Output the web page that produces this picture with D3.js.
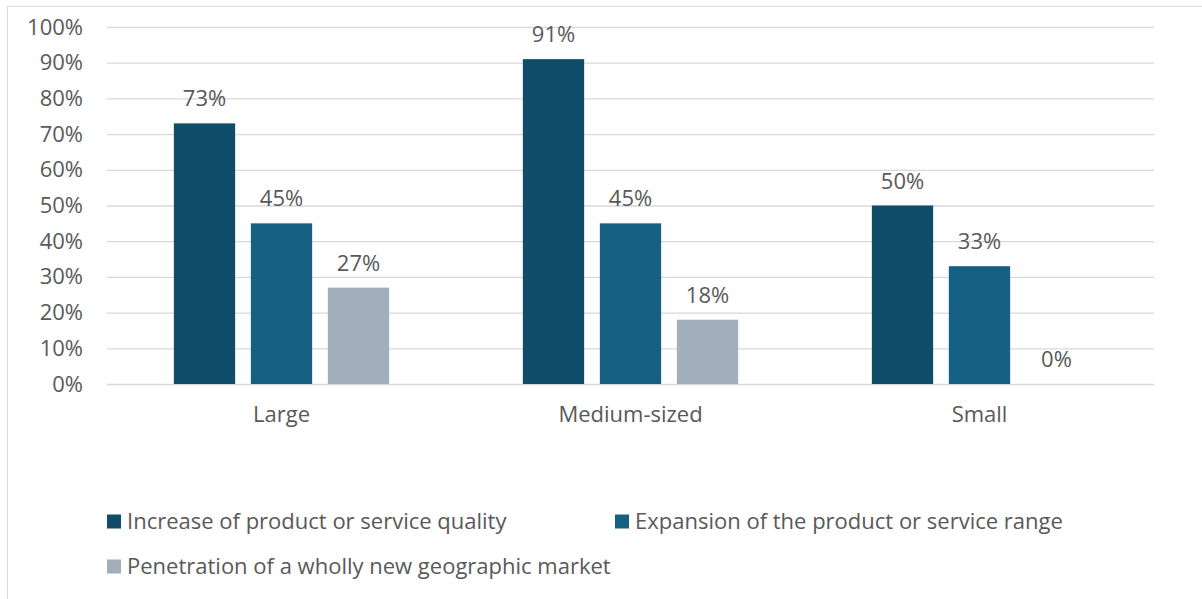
<!DOCTYPE html>
<html>
<head>
<meta charset="utf-8">
<script src="https://cdn.jsdelivr.net/npm/d3@7"></script>
<style>
  html, body { margin: 0; padding: 0; background: #fff; }
  svg { display: block; }
  text { font-family: "Open Sans", "Noto Sans", sans-serif; fill: #595959; }
</style>
</head>
<body>
<script>
// Company size groups and the share of firms naming each growth effect
const categories = ["Large", "Medium-sized", "Small"];
const seriesNames = [
  "Increase of product or service quality",
  "Expansion of the product or service range",
  "Penetration of a wholly new geographic market"
];
const qualityValues = [0.73, 0.91, 0.50];
const rangeValues = [0.45, 0.45, 0.33];
const marketValues = [0.27, 0.18, 0.00];
const yTicks = [0, 0.1, 0.2, 0.3, 0.4, 0.5, 0.6, 0.7, 0.8, 0.9, 1.0];
const colors = ["#0f4d69", "#166083", "#a2afba"];

const W = 1202, H = 599;
const FS = 22;
const margin = { left: 107, right: W - 1154, top: 27, bottom: H - 384 };

const svg = d3.select("body").append("svg").attr("width", W).attr("height", H);

// Chart area border
svg.append("rect")
  .attr("x", 7.5).attr("y", 6.5)
  .attr("width", W + 10).attr("height", H + 10)
  .attr("fill", "none").attr("stroke", "#d9d9d9").attr("stroke-width", 1);

const x0 = d3.scaleBand().domain(categories)
  .range([margin.left, W - margin.right]).paddingInner(0).paddingOuter(0);
const y = d3.scaleLinear().domain([0, 1]).range([384, 27]);

const barW = 61.3, gap = 15.7;
const groupW = barW * 3 + gap * 2;
const x1 = d3.scaleBand().domain(d3.range(3))
  .range([0, groupW]).paddingInner(gap / (barW + gap)).paddingOuter(0);

// Horizontal gridlines and percent tick labels
const yAxis = d3.axisLeft(y).tickValues(yTicks)
  .tickFormat(d3.format(".0%"))
  .tickSize(-(W - margin.left - margin.right)).tickPadding(24);
const gy = svg.append("g").attr("transform", `translate(${margin.left},0)`).call(yAxis);
gy.select(".domain").remove();
gy.selectAll(".tick line").attr("stroke", "#d9d9d9").attr("stroke-width", 1.3);
gy.selectAll(".tick text").attr("font-size", FS).attr("fill", "#595959")
  .attr("font-family", '"Open Sans", sans-serif');

// Category labels
const xAxis = d3.axisBottom(x0).tickSize(0).tickPadding(22);
const gx = svg.append("g").attr("transform", "translate(0,384)").call(xAxis);
gx.select(".domain").remove();
gx.selectAll(".tick text").attr("font-size", FS).attr("fill", "#595959")
  .attr("font-family", '"Open Sans", sans-serif');

const series = [qualityValues, rangeValues, marketValues];
const rows = categories.map((c, i) => ({
  cat: c,
  vals: series.map((s, k) => ({ k, v: s[i] }))
}));

const groups = svg.append("g").selectAll("g").data(rows).join("g")
  .attr("transform", d => `translate(${x0(d.cat) + (x0.bandwidth() - groupW) / 2},0)`);

groups.selectAll("rect").data(d => d.vals).join("rect")
  .attr("x", d => x1(d.k))
  .attr("width", x1.bandwidth())
  .attr("y", d => y(d.v))
  .attr("height", d => y(0) - y(d.v))
  .attr("fill", d => colors[d.k]);

groups.selectAll("text.val").data(d => d.vals).join("text")
  .attr("class", "val")
  .attr("x", d => x1(d.k) + x1.bandwidth() / 2)
  .attr("y", d => y(d.v) - 17)
  .attr("text-anchor", "middle")
  .attr("font-size", FS)
  .text(d => d3.format(".0%")(d.v));

// Legend
const legendItems = [
  { i: 0, x: 107, y: 521.5 },
  { i: 1, x: 615, y: 521.5 },
  { i: 2, x: 107, y: 566.5 }
];
const lg = svg.append("g").selectAll("g").data(legendItems).join("g")
  .attr("transform", d => `translate(${d.x},${d.y})`);
lg.append("rect").attr("x", 0).attr("y", -7).attr("width", 14).attr("height", 14)
  .attr("fill", d => colors[d.i]);
lg.append("text").attr("x", 20).attr("y", 0).attr("dy", "0.35em")
  .attr("font-size", FS)
  .text(d => seriesNames[d.i]);
</script>
</body>
</html>
